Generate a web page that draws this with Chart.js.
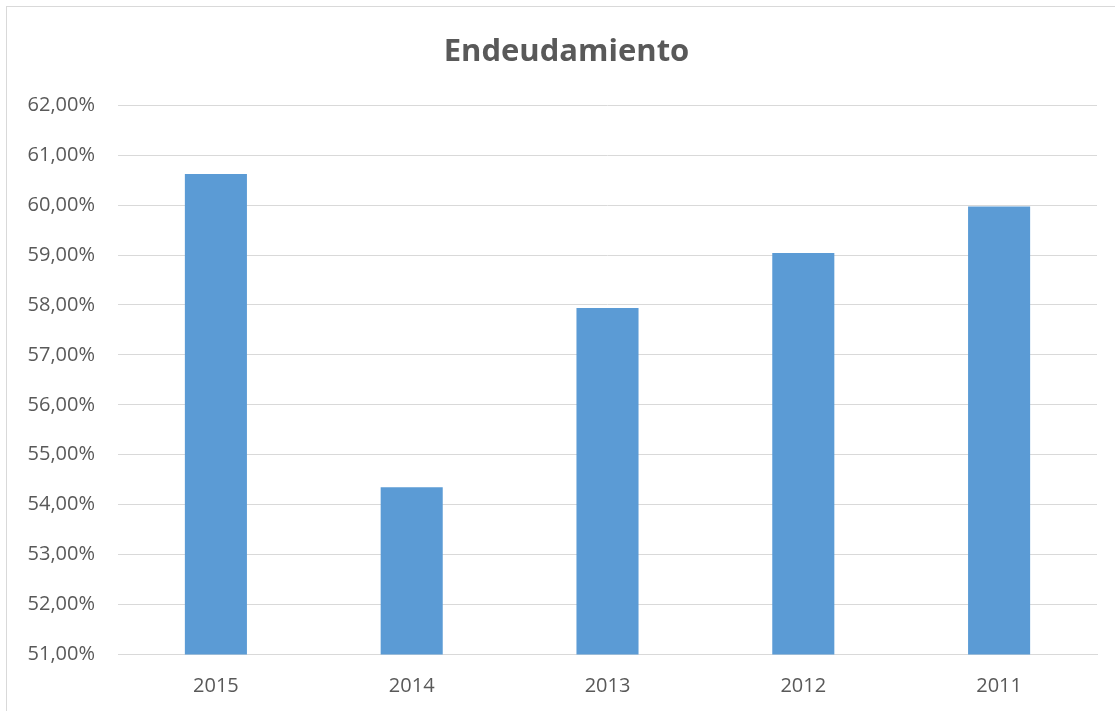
<!DOCTYPE html>
<html>
<head>
<meta charset="utf-8">
<script src="https://cdn.jsdelivr.net/npm/chart.js@4.4.0/dist/chart.umd.min.js"></script>
<style>
  html, body { margin: 0; padding: 0; background: #fff; overflow: hidden; }
  #marco { position: absolute; left: 6px; top: 6px; width: 1200px; height: 800px;
           border-left: 1px solid #d9d9d9; border-top: 1px solid #d9d9d9; }
  #canvas { position: absolute; left: 0; top: 0; }
</style>
</head>
<body>
<div id="marco"></div>
<canvas id="canvas" width="1115" height="711"></canvas>
<script>
// datos
var anios = ['2015', '2014', '2013', '2012', '2011'];
var endeudamiento = [60.62, 54.35, 57.94, 59.04, 59.97];
var ejeMin = 51;
var ejeMax = 62;

var gris = '#595959';
var fuente = "'Open Sans', 'Liberation Sans', sans-serif";

// mueve la caja del titulo para centrarlo como en el original
var moverTitulo = {
  id: 'moverTitulo',
  afterLayout: function(chart) {
    if (chart.titleBlock) {
      chart.titleBlock.left += 36;
    }
  }
};

var ctx = document.getElementById('canvas').getContext('2d');
var chart = new Chart(ctx, {
  type: 'bar',
  data: {
    labels: anios,
    datasets: [
      {
        label: 'Endeudamiento',
        data: endeudamiento,
        backgroundColor: '#5b9bd5',
        borderWidth: 0,
        categoryPercentage: 1,
        barPercentage: 0.317
      }
    ]
  },
  options: {
    responsive: false,
    animation: false,
    layout: { padding: { left: 0, right: 18, top: 0, bottom: 0 } },
    plugins: {
      legend: { display: false },
      tooltip: { enabled: false },
      title: {
        display: true,
        text: 'Endeudamiento',
        color: gris,
        font: { family: fuente, size: 31, weight: 'bold' },
        padding: { top: 34, bottom: 34 }
      }
    },
    scales: {
      x: {
        grid: { display: false, drawTicks: false },
        border: { display: true, color: '#d9d9d9', width: 1 },
        ticks: { color: gris, font: { family: fuente, size: 20 }, padding: 20 },
        afterFit: function(scale) { scale.height = 56.5; }
      },
      y: {
        min: ejeMin,
        max: ejeMax,
        grid: { color: '#d9d9d9', lineWidth: 1, drawTicks: false },
        border: { display: false },
        ticks: {
          stepSize: 1,
          color: gris,
          font: { family: fuente, size: 20 },
          padding: 23,
          callback: function(v) { return v.toFixed(2).replace('.', ',') + '%'; }
        },
        afterFit: function(scale) { scale.width = 118; }
      }
    }
  },
  plugins: [moverTitulo]
});
</script>
</body>
</html>
